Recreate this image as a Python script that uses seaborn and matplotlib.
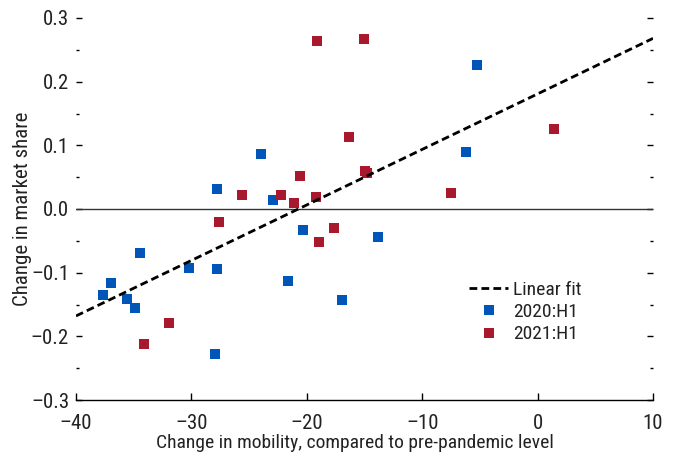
import numpy as np
import pandas as pd
import matplotlib
matplotlib.use("Agg")
import matplotlib.pyplot as plt
from matplotlib import font_manager
from matplotlib.ticker import MultipleLocator, FormatStrFormatter
import seaborn as sns

# ---- data ----
x_2020 = [-5.25, -6.2, -23.97, -27.78, -22.93, -20.33, -13.83, -34.45, -30.21,
          -27.81, -36.97, -21.63, -37.66, -35.61, -34.89, -16.95, -27.95]
y_2020 = [0.226, 0.0895, 0.0864, 0.0314, 0.0141, -0.0325, -0.044, -0.0691, -0.0922,
          -0.0942, -0.1158, -0.1131, -0.1346, -0.1409, -0.1555, -0.1429, -0.2273]
x_2021 = [-19.12, -15.04, -16.34, 1.42, -14.96, -14.79, -20.59, -25.61, -22.24,
          -21.10, -19.20, -7.50, -27.61, -17.64, -18.94, -31.94, -34.11]
y_2021 = [0.2643, 0.267, 0.1131, 0.1257, 0.0602, 0.057, 0.0518, 0.022, 0.022,
          0.0099, 0.0188, 0.0251, -0.0204, -0.0298, -0.0518, -0.179, -0.2116]
fit_x = [-40, 10]
fit_y = [-0.168, 0.268]
series_labels = ["2020:H1", "2021:H1"]
colors = {"2020:H1": "#0055B8", "2021:H1": "#A8192E"}

df = pd.DataFrame({
    "mobility": x_2020 + x_2021,
    "share": y_2020 + y_2021,
    "period": [series_labels[0]] * len(x_2020) + [series_labels[1]] * len(x_2021),
})
fit_df = pd.DataFrame({"mobility": fit_x, "share": fit_y})

sns.set_style("white")
available = {f.name for f in font_manager.fontManager.ttflist}
narrow_pref = ["Liberation Sans Narrow", "Arial Narrow", "Roboto Condensed",
               "Archivo Narrow", "Open Sans Condensed"]
chosen = [n for n in narrow_pref if n in available][:1]
plt.rcParams["font.family"] = chosen + ["Liberation Sans", "DejaVu Sans"]
FS = 15 if chosen else 13
FS2 = 14 if chosen else 12.5

fig = plt.figure(figsize=(6.75, 4.55), dpi=100)
ax = fig.add_axes([76 / 675, 1 - 400 / 455, (653 - 76) / 675, (400 - 18) / 455])

ax.axhline(0, color="#333333", lw=1.0, zorder=1)
sns.lineplot(data=fit_df, x="mobility", y="share", ax=ax, color="black", lw=2.0,
             dashes=False, label="Linear fit", zorder=3)
ax.lines[-1].set_dashes((2.8, 1.5))
sns.scatterplot(data=df, x="mobility", y="share", hue="period", hue_order=series_labels,
                palette=colors, marker="s", s=55, linewidth=0, ax=ax, zorder=2)

ax.set_xlim(-40, 10)
ax.set_ylim(-0.3, 0.3)
ax.xaxis.set_major_locator(MultipleLocator(10))
ax.yaxis.set_major_locator(MultipleLocator(0.1))
ax.yaxis.set_minor_locator(MultipleLocator(0.05))
ax.yaxis.set_major_formatter(FormatStrFormatter("%.1f"))
ax.set_xticklabels([f"{int(v)}".replace("-", "\u2013") for v in ax.get_xticks()])
ax.set_yticklabels([f"{v:.1f}".replace("-", "\u2013") for v in ax.get_yticks()])

for s in ["top", "left", "right"]:
    ax.spines[s].set_visible(False)
ax.spines["bottom"].set_color("black")
ax.spines["bottom"].set_linewidth(1.0)

ax.tick_params(axis="x", which="major", direction="in", length=5, width=1,
               colors="black", labelsize=FS, pad=10, bottom=True)
ax.tick_params(axis="y", which="major", direction="in", length=4.5, width=1,
               colors="black", labelsize=FS, left=True, right=True, pad=5)
ax.tick_params(axis="y", which="minor", direction="in", length=2.5, width=1,
               colors="black", left=True, right=True)
for lab in ax.get_xticklabels() + ax.get_yticklabels():
    lab.set_color("#222222")

ax.set_xlabel("Change in mobility, compared to pre-pandemic level", fontsize=FS2,
              color="#222222", labelpad=1)
ax.xaxis.label.set_x(0.484)
ax.set_ylabel("Change in market share", fontsize=FS, color="#222222", labelpad=-1)

handles, labels = ax.get_legend_handles_labels()
leg = ax.legend(handles, labels, loc="lower right", bbox_to_anchor=(0.876, 0.148),
                frameon=False, fontsize=FS2, handlelength=2.0, handletextpad=0.25,
                labelspacing=0.22, borderaxespad=0, borderpad=0)
for h in leg.legend_handles:
    if hasattr(h, "set_sizes"):
        h.set_sizes([55])
for t in leg.get_texts():
    t.set_color("#222222")

fig.savefig("out.png", dpi=100)
